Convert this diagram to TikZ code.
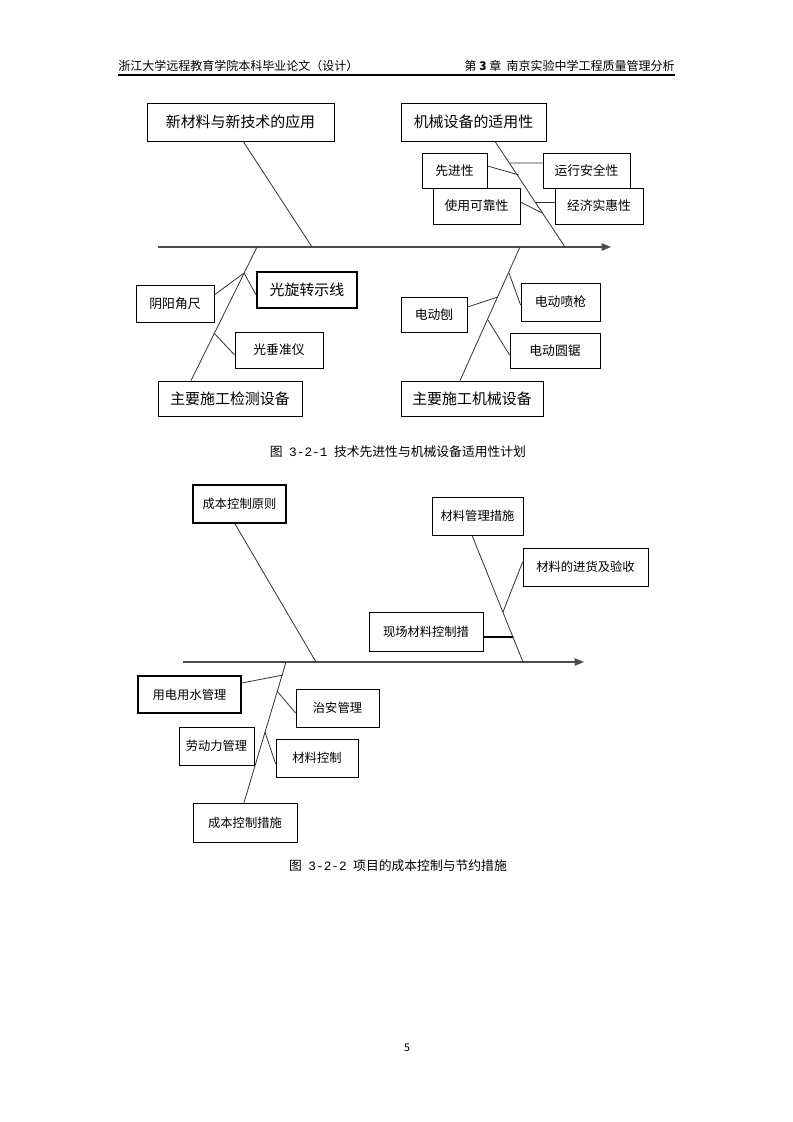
\documentclass[tikz,border=0pt]{standalone}
\usepackage{fontspec}
\setmainfont{Noto Sans CJK SC}
\newfontfamily\monofnt{Liberation Mono}
\usetikzlibrary{arrows.meta}
\newcommand\mybox[7][]{\node[box,#1,minimum width={(#5-#3)*0.75pt},minimum height={(#6-#4)*0.75pt}] (#2) at ({(#3+#5)/2},{(#4+#6)/2}) {#7};}
\tikzset{
  box/.style={draw=black,line width=0.6pt,inner sep=0pt,fill=white},
  boldbox/.style={line width=1.3pt},
  big/.style={font=\fontsize{11.2}{13}\selectfont},
  mid/.style={font=\fontsize{9.6}{12}\selectfont},
  sml/.style={font=\fontsize{9.2}{11}\selectfont},
  spine/.style={draw=black!70,line width=1pt,-{Triangle[length=7pt,width=5.5pt]}},
  bone/.style={draw=black!80,line width=0.6pt},
  twig/.style={draw=black!80,line width=0.6pt},
  thicktwig/.style={draw=black,line width=1.4pt},
  captext/.style={font=\fontsize{9.6}{11}\selectfont},
}
\begin{document}
\begin{tikzpicture}[x=0.75pt,y=-0.75pt]
\useasboundingbox (0,0) rectangle (793,1122);
\fill[white] (0,0) rectangle (793,1122);

% header
\node[anchor=west,font=\fontsize{9}{11}\selectfont,inner sep=0pt] (hl) at (118,66) {浙江大学远程教育学院本科毕业论文（设计）};
\node[anchor=east,font=\fontsize{9}{11}\selectfont,inner sep=0pt] (hr) at (675,66) {第 \textbf{3} 章\ \ 南京实验中学工程质量管理分析};
\coordinate (hlL) at (118,75);
\coordinate (hlR) at (675,75);
\draw[line width=0.8pt] (hlL) -- (hlR);

% ================= Figure 1 =================
\coordinate (sp1L) at (158,247);
\coordinate (sp1R) at (611,247);
\draw[spine] (sp1L) -- (sp1R);

\mybox[big]{b11}{147}{103}{334}{141}{新材料与新技术的应用}
\mybox[big]{b12}{401}{103}{546}{141}{机械设备的适用性}
\mybox[mid]{c1}{422}{153}{487}{188}{先进性}
\mybox[mid]{c2}{543}{153}{630}{188}{运行安全性}
\mybox[mid]{c4}{555}{188}{643}{224}{经济实惠性}
\mybox[mid]{c3}{433}{188}{520}{224}{使用可靠性}

\coordinate (s11) at (312,247);
\coordinate (s12) at (565,247);
\draw[bone] ([xshift=2pt]b11.south) -- (s11);
\draw[bone] ([xshift=16.1pt]b12.south) -- (s12);
\coordinate (j1) at (519,175);
\coordinate (j2) at (510,163);
\coordinate (j3) at (542,213);
\coordinate (j4) at (535,202);
\draw[twig] ([yshift=3.4pt]c1.east) -- (j1);
\draw[twig] (j2) -- ([yshift=5.6pt]c2.west);
\draw[twig] ([yshift=3pt]c3.east) -- (j3);
\draw[twig] (j4) -- ([yshift=3pt]c4.west);

% bottom-left
\mybox[big]{b13}{158}{381}{302}{416}{主要施工检测设备}
\mybox[mid]{d1}{136}{285}{214}{322}{阴阳角尺}
\mybox[big,boldbox]{d2}{257}{272}{357}{308}{光旋转示线}
\mybox[mid]{d3}{235}{332}{323}{368}{光垂准仪}
\coordinate (s13) at (257,247);
\draw[bone] (s13) -- ([xshift=-29.25pt]b13.north);
\coordinate (k1) at (244,273);
\coordinate (k2) at (214,333);
\draw[twig] ([yshift=6.4pt]d1.east) -- (k1);
\draw[twig] (k1) -- ([yshift=-3.75pt]d2.west);
\draw[twig] (k2) -- ([yshift=-3.75pt]d3.west);

% bottom-right
\mybox[big]{b14}{401}{381}{543}{416}{主要施工机械设备}
\mybox[mid]{e1}{401}{297}{467}{332}{电动刨}
\mybox[mid]{e2}{521}{283}{600}{321}{电动喷枪}
\mybox[mid]{e3}{510}{333}{600}{368}{电动圆锯}
\coordinate (s14) at (520,247);
\draw[bone] (s14) -- ([xshift=-9pt]b14.north);
\coordinate (m1) at (498,297);
\coordinate (m2) at (509,273);
\coordinate (m3) at (488,320);
\draw[twig] ([yshift=5.6pt]e1.east) -- (m1);
\draw[twig] (m2) -- ([yshift=-2.25pt]e2.west);
\draw[twig] (m3) -- ([yshift=-3.4pt]e3.west);

\node[captext] (cap1) at (398,452) {图\hspace{0.5em}{\monofnt 3-2-1}\hspace{0.5em}技术先进性与机械设备适用性计划};

% ================= Figure 2 =================
\coordinate (sp2L) at (183,662);
\coordinate (sp2R) at (584,662);
\draw[spine] (sp2L) -- (sp2R);

\mybox[sml,boldbox]{f1}{193}{485}{286}{523}{成本控制原则}
\mybox[sml]{f2}{432}{497}{523}{535}{材料管理措施}
\mybox[sml]{g1}{523}{548}{648}{586}{材料的进货及验收}
\mybox[sml]{g2}{369}{612}{483}{651}{现场材料控制措}
\coordinate (s21) at (316,662);
\coordinate (s22) at (523,662);
\draw[bone] ([xshift=-3.4pt]f1.south) -- (s21);
\draw[bone] ([xshift=-4.1pt]f2.south) -- (s22);
\coordinate (n1) at (503,612);
\coordinate (n2) at (513,637);
\draw[twig] (n1) -- ([yshift=3.75pt]g1.west);
\draw[thicktwig] ([yshift=-4.1pt]g2.east) -- (n2);

\mybox[sml]{f3}{193}{803}{297}{842}{成本控制措施}
\mybox[sml,boldbox]{h1}{138}{676}{241}{713}{用电用水管理}
\mybox[sml]{h2}{296}{689}{379}{727}{治安管理}
\mybox[sml]{h3}{179}{727}{254}{765}{劳动力管理}
\mybox[sml]{h4}{276}{739}{358}{777}{材料控制}
\coordinate (s23) at (286,662);
\draw[bone] (s23) -- ([xshift=-0.75pt]f3.north);
\coordinate (p1) at (283,675);
\coordinate (p2) at (277,691);
\coordinate (p4) at (265,732);
\draw[twig] ([yshift=8.6pt]h1.east) -- (p1);
\draw[twig] (p2) -- ([yshift=-3.75pt]h2.west);
\draw[twig] (p4) -- ([yshift=-4.5pt]h4.west);

\node[captext] (cap2) at (398,866) {图\hspace{0.5em}{\monofnt 3-2-2}\hspace{0.5em}项目的成本控制与节约措施};

% page number
\node[font=\fontsize{8}{10}\selectfont] (pg) at (407,1048) {5};
\end{tikzpicture}
\end{document}
